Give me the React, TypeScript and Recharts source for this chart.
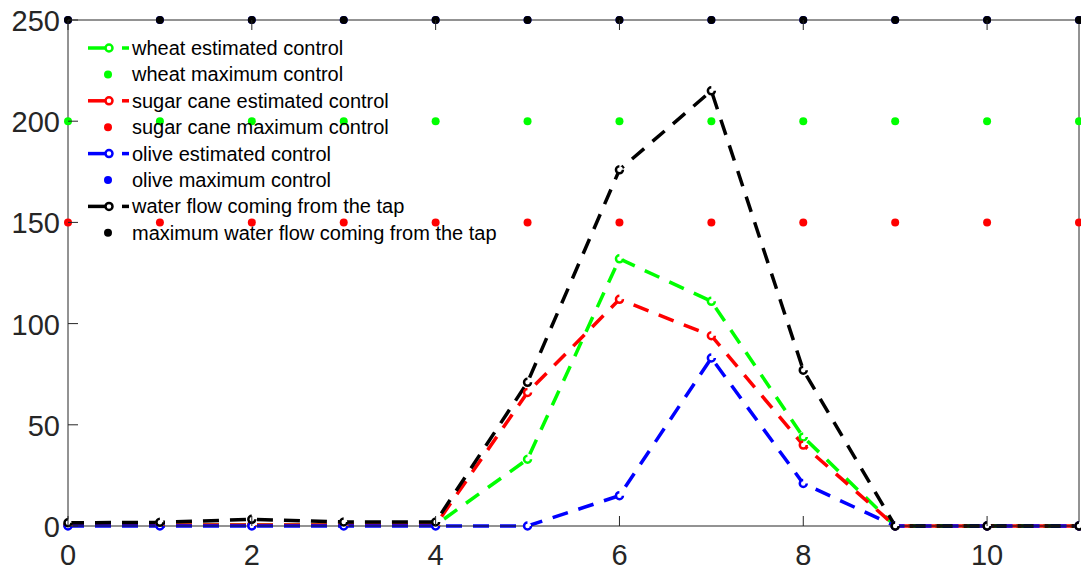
import { ComposedChart, Line, XAxis, YAxis } from "recharts";

const steps = [0, 1, 2, 3, 4, 5, 6, 7, 8, 9, 10, 11];
const wheatEstimated = [0.5, 0.5, 0.5, 0.5, 0.5, 33, 132, 111, 44, 0, 0, 0];
const wheatMaximum = [200, 200, 200, 200, 200, 200, 200, 200, 200, 200, 200, 200];
const sugarEstimated = [0.5, 0.5, 0.5, 0.5, 0.5, 66, 112, 94, 40, 0, 0, 0];
const sugarMaximum = [150, 150, 150, 150, 150, 150, 150, 150, 150, 150, 150, 150];
const oliveEstimated = [0, 0, 0, 0, 0, 0, 15, 83, 21, 0, 0, 0];
const oliveMaximum = [250, 250, 250, 250, 250, 250, 250, 250, 250, 250, 250, 250];
const tapFlow = [1.6, 1.8, 3.3, 2, 2, 71, 176, 215, 77, 0, 0, 0];
const tapMaximum = [250, 250, 250, 250, 250, 250, 250, 250, 250, 250, 250, 250];

const xTicks = [0, 2, 4, 6, 8, 10];
const yTicks = [0, 50, 100, 150, 200, 250];

const legendItems = [
  { label: "wheat estimated control", color: "#00ff00", kind: "line" },
  { label: "wheat maximum control", color: "#00ff00", kind: "dot" },
  { label: "sugar cane estimated control", color: "#ff0000", kind: "line" },
  { label: "sugar cane maximum control", color: "#ff0000", kind: "dot" },
  { label: "olive estimated control", color: "#0000ff", kind: "line" },
  { label: "olive maximum control", color: "#0000ff", kind: "dot" },
  { label: "water flow coming from the tap", color: "#000000", kind: "line" },
  { label: "maximum water flow coming from the tap", color: "#000000", kind: "dot" },
];

const data = steps.map((x, i) => ({
  x,
  wheatEst: wheatEstimated[i],
  wheatMax: wheatMaximum[i],
  sugarEst: sugarEstimated[i],
  sugarMax: sugarMaximum[i],
  oliveEst: oliveEstimated[i],
  oliveMax: oliveMaximum[i],
  tap: tapFlow[i],
  tapMax: tapMaximum[i],
}));

const AXIS = "#262626";
const FONT = "'Liberation Sans', Arial, sans-serif";
const TICK_LEN = 10;

const BottomTick = (p: any) => (
  <g>
    <line x1={p.x} x2={p.x} y1={p.y} y2={p.y - TICK_LEN} stroke={AXIS} />
    <text x={p.x} y={p.y + 39} textAnchor="middle" fontSize={29} fill={AXIS} fontFamily={FONT}>
      {p.payload.value}
    </text>
  </g>
);

const LeftTick = (p: any) => (
  <g>
    <line x1={p.x} x2={p.x + TICK_LEN} y1={p.y} y2={p.y} stroke={AXIS} />
    <text x={p.x - 8} y={p.y + 11} textAnchor="end" fontSize={29} fill={AXIS} fontFamily={FONT}>
      {p.payload.value}
    </text>
  </g>
);

const TopTick = (p: any) => (
  <line x1={p.x} x2={p.x} y1={p.y} y2={p.y + TICK_LEN} stroke={AXIS} />
);

const RightTick = (p: any) => (
  <line x1={p.x} x2={p.x - TICK_LEN} y1={p.y} y2={p.y} stroke={AXIS} />
);

const estLine = (key: string, color: string) => (
  <Line
    key={key}
    dataKey={key}
    stroke={color}
    strokeWidth={3.5}
    strokeDasharray="16 11"
    dot={{ r: 3.5, fill: "#ffffff", stroke: color, strokeWidth: 2.5 }}
    isAnimationActive={false}
  />
);

const maxDots = (key: string, color: string) => (
  <Line
    key={key}
    dataKey={key}
    stroke="none"
    dot={{ r: 4, fill: color, stroke: "none" }}
    isAnimationActive={false}
  />
);

function LegendBox() {
  return (
    <svg
      width={480}
      height={240}
      style={{ position: "absolute", left: 80, top: 30, pointerEvents: "none" }}
    >
      {legendItems.map((item, i) => {
        const cy = 18 + i * 26.4;
        return (
          <g key={item.label}>
            {item.kind === "line" ? (
              <g>
                <line x1={8} x2={25} y1={cy} y2={cy} stroke={item.color} strokeWidth={3.5} />
                <circle cx={29} cy={cy} r={3.5} fill="#ffffff" stroke={item.color} strokeWidth={2.5} />
                <line x1={42} x2={49} y1={cy} y2={cy} stroke={item.color} strokeWidth={3.5} />
              </g>
            ) : (
              <circle cx={28} cy={cy} r={4} fill={item.color} />
            )}
            <text x={52} y={cy + 7} fontSize={20} fill="#000000" fontFamily={FONT}>
              {item.label}
            </text>
          </g>
        );
      })}
    </svg>
  );
}

export default function App() {
  return (
    <div style={{ position: "absolute", left: 0, top: 0, width: 1081, height: 571, background: "#ffffff" }}>
      <ComposedChart
        width={1081}
        height={571}
        data={data}
        margin={{ top: 19, right: 1, bottom: 0, left: 0 }}
      >
        <XAxis
          dataKey="x"
          type="number"
          domain={[0, 11]}
          ticks={xTicks}
          height={45}
          tickSize={0}
          tickMargin={0}
          tickLine={false}
          axisLine={{ stroke: AXIS }}
          tick={BottomTick}
          interval={0}
        />
        <XAxis
          xAxisId="top"
          dataKey="x"
          type="number"
          orientation="top"
          domain={[0, 11]}
          ticks={xTicks}
          height={1}
          tickSize={0}
          tickMargin={0}
          tickLine={false}
          axisLine={{ stroke: AXIS }}
          tick={TopTick}
          interval={0}
        />
        <YAxis
          type="number"
          domain={[0, 250]}
          ticks={yTicks}
          width={68}
          tickSize={0}
          tickMargin={0}
          tickLine={false}
          axisLine={{ stroke: AXIS }}
          tick={LeftTick}
          interval={0}
        />
        <YAxis
          yAxisId="right"
          orientation="right"
          type="number"
          domain={[0, 250]}
          ticks={yTicks}
          width={1}
          tickSize={0}
          tickMargin={0}
          tickLine={false}
          axisLine={{ stroke: AXIS }}
          tick={RightTick}
          interval={0}
        />
        {estLine("wheatEst", "#00ff00")}
        {maxDots("wheatMax", "#00ff00")}
        {estLine("sugarEst", "#ff0000")}
        {maxDots("sugarMax", "#ff0000")}
        {estLine("oliveEst", "#0000ff")}
        {maxDots("oliveMax", "#0000ff")}
        {estLine("tap", "#000000")}
        {maxDots("tapMax", "#000000")}
      </ComposedChart>
      <LegendBox />
    </div>
  );
}
